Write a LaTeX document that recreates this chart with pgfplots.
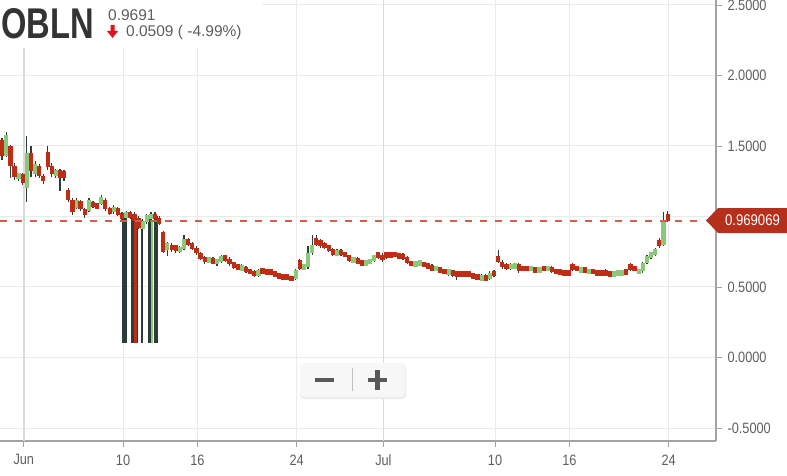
\documentclass[border=0pt]{standalone}
\usepackage{pgfplots}
\pgfplotsset{compat=1.18}
\usepackage{pgfplotstable}
\usepackage{fontspec}
\setmainfont{Liberation Sans}
\newfontfamily\cond{Liberation Sans}[FakeStretch=0.85]
\newfontfamily\condx{Liberation Sans}[FakeStretch=0.76]
\definecolor{up}{HTML}{8BC87A}
\definecolor{dn}{HTML}{BE2D14}
\definecolor{wick}{HTML}{2E3B3B}
\definecolor{gridc}{HTML}{EBEBEB}
\definecolor{mgrid}{HTML}{DADADA}
\definecolor{axc}{HTML}{A3A3A3}
\definecolor{txt}{HTML}{5E5E5E}
\definecolor{lab}{HTML}{B5301B}
\definecolor{dashc}{HTML}{CD604A}
\definecolor{arr}{HTML}{E3101E}

\pgfplotstableread{
x o h l c
0.25 1.54 1.56 1.40 1.43
0.58 1.43 1.60 1.42 1.58
0.92 1.50 1.51 1.27 1.36
1.25 1.36 1.38 1.26 1.28
1.58 1.27 1.31 1.25 1.30
1.92 1.30 1.31 1.22 1.24
2.25 1.20 1.57 1.10 1.45
2.58 1.45 1.50 1.28 1.32
2.92 1.30 1.39 1.28 1.37
3.25 1.36 1.37 1.27 1.29
3.58 1.29 1.30 1.23 1.25
3.92 1.46 1.50 1.33 1.35
4.25 1.36 1.38 1.28 1.30
4.58 1.29 1.34 1.27 1.33
4.92 1.33 1.34 1.18 1.27
5.25 1.32 1.33 1.25 1.27
5.58 1.19 1.20 1.10 1.12
5.92 1.12 1.13 1.01 1.03
6.25 1.06 1.13 1.05 1.12
6.58 1.11 1.12 1.04 1.05
6.92 1.05 1.06 0.99 1.01
7.25 1.04 1.13 1.03 1.12
7.58 1.10 1.11 1.06 1.07
7.92 1.08 1.09 1.06 1.07
8.25 1.09 1.15 1.08 1.14
8.58 1.12 1.13 1.04 1.05
8.92 1.06 1.07 1.01 1.02
9.25 1.03 1.08 1.02 1.07
9.58 1.06 1.07 1.00 1.01
9.92 1.02 1.03 0.97 0.99
10.25 0.99 1.04 0.98 1.03
10.58 1.03 1.04 0.98 0.99
10.92 1.02 1.03 0.96 0.97
11.25 0.99 1.00 0.91 0.92
11.58 0.91 0.98 0.90 0.97
11.92 0.96 1.02 0.95 1.01
12.25 0.98 1.03 0.97 1.02
12.58 1.02 1.03 0.97 0.98
12.92 0.99 1.00 0.94 0.95
13.25 0.89 0.90 0.74 0.75
13.58 0.76 0.82 0.72 0.81
13.92 0.80 0.81 0.75 0.76
14.25 0.79 0.80 0.74 0.76
14.58 0.75 0.79 0.74 0.78
14.92 0.77 0.87 0.76 0.84
15.25 0.84 0.85 0.79 0.80
15.58 0.81 0.82 0.76 0.77
15.92 0.78 0.79 0.73 0.74
16.25 0.74 0.75 0.69 0.70
16.58 0.71 0.72 0.66 0.68
16.92 0.68 0.71 0.67 0.70
17.25 0.70 0.71 0.66 0.67
17.58 0.67 0.70 0.65 0.69
17.92 0.68 0.73 0.67 0.72
18.25 0.72 0.73 0.68 0.69
18.58 0.70 0.71 0.65 0.66
18.92 0.67 0.68 0.63 0.64
19.25 0.65 0.66 0.62 0.63
19.58 0.62 0.66 0.61 0.65
19.92 0.64 0.65 0.60 0.61
20.25 0.62 0.63 0.59 0.60
20.58 0.61 0.62 0.57 0.58
20.92 0.58 0.63 0.57 0.62
21.25 0.62 0.63 0.60 0.61
21.58 0.61 0.62 0.60 0.60
21.92 0.61 0.62 0.59 0.60
22.25 0.60 0.61 0.57 0.58
22.58 0.59 0.60 0.56 0.57
22.92 0.58 0.59 0.55 0.56
23.25 0.58 0.59 0.55 0.56
23.58 0.57 0.58 0.54 0.55
23.92 0.56 0.63 0.55 0.62
24.25 0.69 0.70 0.62 0.63
24.58 0.63 0.66 0.62 0.65
24.92 0.64 0.79 0.63 0.74
25.25 0.74 0.87 0.73 0.80
25.58 0.85 0.87 0.79 0.80
25.92 0.83 0.84 0.78 0.79
26.25 0.81 0.82 0.77 0.78
26.58 0.79 0.80 0.75 0.76
26.92 0.77 0.78 0.72 0.73
27.25 0.73 0.77 0.72 0.75
27.58 0.76 0.77 0.72 0.73
27.92 0.74 0.75 0.71 0.72
28.25 0.72 0.73 0.68 0.69
28.58 0.68 0.71 0.67 0.70
28.92 0.70 0.71 0.66 0.67
29.25 0.68 0.69 0.65 0.66
29.58 0.66 0.69 0.65 0.68
29.92 0.67 0.70 0.66 0.69
30.25 0.69 0.73 0.68 0.72
30.58 0.74 0.75 0.70 0.71
30.92 0.73 0.74 0.68 0.69
31.25 0.74 0.75 0.70 0.71
31.58 0.73 0.74 0.71 0.72
31.92 0.74 0.75 0.71 0.72
32.25 0.73 0.74 0.70 0.71
32.58 0.73 0.74 0.69 0.70
32.92 0.71 0.72 0.66 0.67
33.25 0.67 0.68 0.66 0.665
33.58 0.66 0.68 0.65 0.67
33.92 0.66 0.69 0.65 0.68
34.25 0.67 0.68 0.64 0.65
34.58 0.66 0.67 0.63 0.64
34.92 0.65 0.66 0.61 0.62
35.25 0.62 0.65 0.61 0.64
35.58 0.63 0.64 0.60 0.61
35.92 0.62 0.63 0.59 0.60
36.25 0.59 0.63 0.58 0.62
36.58 0.61 0.62 0.57 0.59
36.92 0.60 0.61 0.55 0.58
37.25 0.60 0.61 0.57 0.58
37.58 0.60 0.61 0.57 0.58
37.92 0.60 0.61 0.57 0.58
38.25 0.59 0.60 0.56 0.57
38.58 0.58 0.59 0.55 0.56
38.92 0.55 0.59 0.54 0.58
39.25 0.58 0.59 0.54 0.55
39.58 0.56 0.61 0.55 0.60
39.92 0.61 0.62 0.57 0.58
40.25 0.72 0.76 0.67 0.68
40.58 0.68 0.69 0.63 0.64
40.92 0.66 0.67 0.62 0.63
41.25 0.63 0.67 0.62 0.66
41.58 0.64 0.67 0.63 0.66
41.92 0.66 0.67 0.60 0.61
42.25 0.64 0.65 0.61 0.62
42.58 0.64 0.65 0.61 0.62
42.92 0.62 0.65 0.61 0.64
43.25 0.63 0.64 0.60 0.61
43.58 0.61 0.64 0.60 0.63
43.92 0.64 0.65 0.61 0.62
44.25 0.62 0.65 0.61 0.64
44.58 0.64 0.65 0.60 0.61
44.92 0.62 0.63 0.59 0.60
45.25 0.61 0.62 0.59 0.60
45.58 0.61 0.62 0.58 0.59
45.92 0.61 0.62 0.58 0.59
46.25 0.66 0.67 0.61 0.62
46.58 0.64 0.65 0.61 0.62
46.92 0.61 0.64 0.60 0.63
47.25 0.63 0.64 0.60 0.61
47.58 0.60 0.63 0.59 0.62
47.92 0.62 0.63 0.59 0.60
48.25 0.61 0.62 0.58 0.59
48.58 0.60 0.61 0.59 0.595
48.92 0.61 0.63 0.58 0.59
49.25 0.60 0.61 0.57 0.58
49.58 0.58 0.61 0.57 0.60
49.92 0.59 0.62 0.58 0.61
50.25 0.59 0.62 0.58 0.61
50.58 0.61 0.62 0.59 0.60
50.92 0.66 0.67 0.61 0.62
51.25 0.64 0.65 0.61 0.62
51.58 0.61 0.62 0.60 0.61
51.92 0.61 0.68 0.60 0.67
52.25 0.67 0.73 0.66 0.72
52.58 0.71 0.75 0.70 0.74
52.92 0.73 0.78 0.72 0.77
53.25 0.83 0.85 0.78 0.79
53.58 0.80 1.03 0.79 0.97
53.92 1.02 1.04 0.96 0.969
}\candles

\pgfplotstableread{
x top bot
10.12 0.99 0.10
11.01 0.98 0.10
12.18 0.99 0.10
12.66 1.00 0.10
}\spikewide
\pgfplotstableread{
x top bot
10.73 0.99 0.10
11.57 0.92 0.10
}\spikethin
\pgfplotstableread{
x top bot
11.01 0.97 0.10
}\spikered
\pgfplotstableread{
x top bot
12.34 0.97 0.10
}\spikegreen

\begin{document}
\begin{tikzpicture}
\useasboundingbox (0,0) rectangle (787pt,475pt);
\begin{axis}[
  at={(0pt,34pt)}, anchor=south west,
  width=716pt, height=441pt, scale only axis,
  xmin=0.081, xmax=57.82, ymin=-0.592, ymax=2.535,
  axis x line*=bottom, axis y line*=right,
  axis line style={axc, line width=1.2pt},
  xtick={2,10,16,24,31,40,46,54},
  xticklabels={Jun,10,16,24,Jul,10,16,24},
  ytick={-0.5,0,0.5,1,1.5,2,2.5},
  yticklabels={-0.5000,0.0000,0.5000,{},1.5000,2.0000,2.5000},
  grid=major, major grid style={gridc, line width=1pt},
  tick align=outside, major tick length=6pt,
  tick style={axc, line width=0.8pt},
  ticklabel style={font=\cond\fontsize{15}{15}\selectfont, text=txt},
  xticklabel style={yshift=-4pt},
  yticklabel style={xshift=2pt},
  clip=true,
]
\draw[mgrid, line width=1.5pt] (axis cs:2,-0.592) -- (axis cs:2,2.535);
\draw[mgrid, line width=1.5pt] (axis cs:31,-0.592) -- (axis cs:31,2.535);

% wicks
\addplot[draw=none, mark=none, forget plot,
  error bars/.cd, y dir=both, y explicit, error mark=none,
  error bar style={draw=wick, line width=1.2pt}]
  table[x=x, y expr={(\thisrow{h}+\thisrow{l})/2}, y error expr={(\thisrow{h}-\thisrow{l})/2}] {\candles};

% spikes
\addplot[draw=none, mark=none, forget plot,
  error bars/.cd, y dir=both, y explicit, error mark=none,
  error bar style={draw=wick, line width=4.6pt}]
  table[x=x, y expr={(\thisrow{top}+\thisrow{bot})/2}, y error expr={(\thisrow{top}-\thisrow{bot})/2}] {\spikewide};
\addplot[draw=none, mark=none, forget plot,
  error bars/.cd, y dir=both, y explicit, error mark=none,
  error bar style={draw=wick, line width=2pt}]
  table[x=x, y expr={(\thisrow{top}+\thisrow{bot})/2}, y error expr={(\thisrow{top}-\thisrow{bot})/2}] {\spikethin};
\addplot[draw=none, mark=none, forget plot,
  error bars/.cd, y dir=both, y explicit, error mark=none,
  error bar style={draw=dn, line width=2.4pt}]
  table[x=x, y expr={(\thisrow{top}+\thisrow{bot})/2}, y error expr={(\thisrow{top}-\thisrow{bot})/2}] {\spikered};
\addplot[draw=none, mark=none, forget plot,
  error bars/.cd, y dir=both, y explicit, error mark=none,
  error bar style={draw=up, line width=2.4pt}]
  table[x=x, y expr={(\thisrow{top}+\thisrow{bot})/2}, y error expr={(\thisrow{top}-\thisrow{bot})/2}] {\spikegreen};

% up bodies
\addplot[draw=none, mark=none, forget plot,
  error bars/.cd, y dir=both, y explicit, error mark=none,
  error bar style={draw=up, line width=4.2pt}]
  table[x=x, y expr={\thisrow{c}>=\thisrow{o} ? (\thisrow{o}+\thisrow{c})/2 : nan},
        y error expr={max(abs(\thisrow{c}-\thisrow{o})/2,0.02)}] {\candles};
% down bodies
\addplot[draw=none, mark=none, forget plot,
  error bars/.cd, y dir=both, y explicit, error mark=none,
  error bar style={draw=dn, line width=4.2pt}]
  table[x=x, y expr={\thisrow{c}<\thisrow{o} ? (\thisrow{o}+\thisrow{c})/2 : nan},
        y error expr={max(abs(\thisrow{c}-\thisrow{o})/2,0.02)}] {\candles};

\draw[dashc, line width=1.4pt, dash pattern=on 7pt off 8pt] (axis cs:0.081,0.969069) -- (axis cs:56.7,0.969069);
\end{axis}

% header box
\fill[white] (0pt,427pt) rectangle (262pt,475pt);
\node[anchor=base west, inner sep=0pt, text=black!80] at (1pt,436pt)
  {\condx\bfseries\fontsize{43}{43}\selectfont OBLN};
\node[anchor=base west, inner sep=0pt, text=txt] at (108pt,454pt)
  {\fontsize{15.5}{15.5}\selectfont 0.9691};
\node[anchor=base west, inner sep=0pt, text=txt] at (126pt,438pt)
  {\fontsize{15.5}{15.5}\selectfont 0.0509 ( -4.99\%)};
\fill[arr] (110.5pt,450pt) -- (114.5pt,450pt) -- (114.5pt,444pt) -- (118pt,444pt)
  -- (112.5pt,437pt) -- (107pt,444pt) -- (110.5pt,444pt) -- cycle;

% zoom box
\fill[black!8, rounded corners=4pt] (300pt,76pt) rectangle (406pt,111pt);
\fill[white!97!black, rounded corners=4pt] (300pt,78pt) rectangle (405pt,112pt);
\fill[black!65] (315pt,93pt) rectangle (334pt,97.5pt);
\fill[black!65] (368pt,93pt) rectangle (387pt,97.5pt);
\fill[black!65] (375.3pt,85.5pt) rectangle (379.8pt,105pt);
\draw[black!25, line width=0.8pt] (352pt,84pt) -- (352pt,107pt);

% last price label
\fill[lab] (706pt,254.5pt) -- (718pt,267pt) -- (787pt,267pt) -- (787pt,242pt) -- (718pt,242pt) -- cycle;
\node[anchor=center, inner sep=0pt, text=white] at (752.5pt,254.5pt)
  {\cond\fontsize{15.5}{15.5}\selectfont 0.969069};
\end{tikzpicture}
\end{document}
